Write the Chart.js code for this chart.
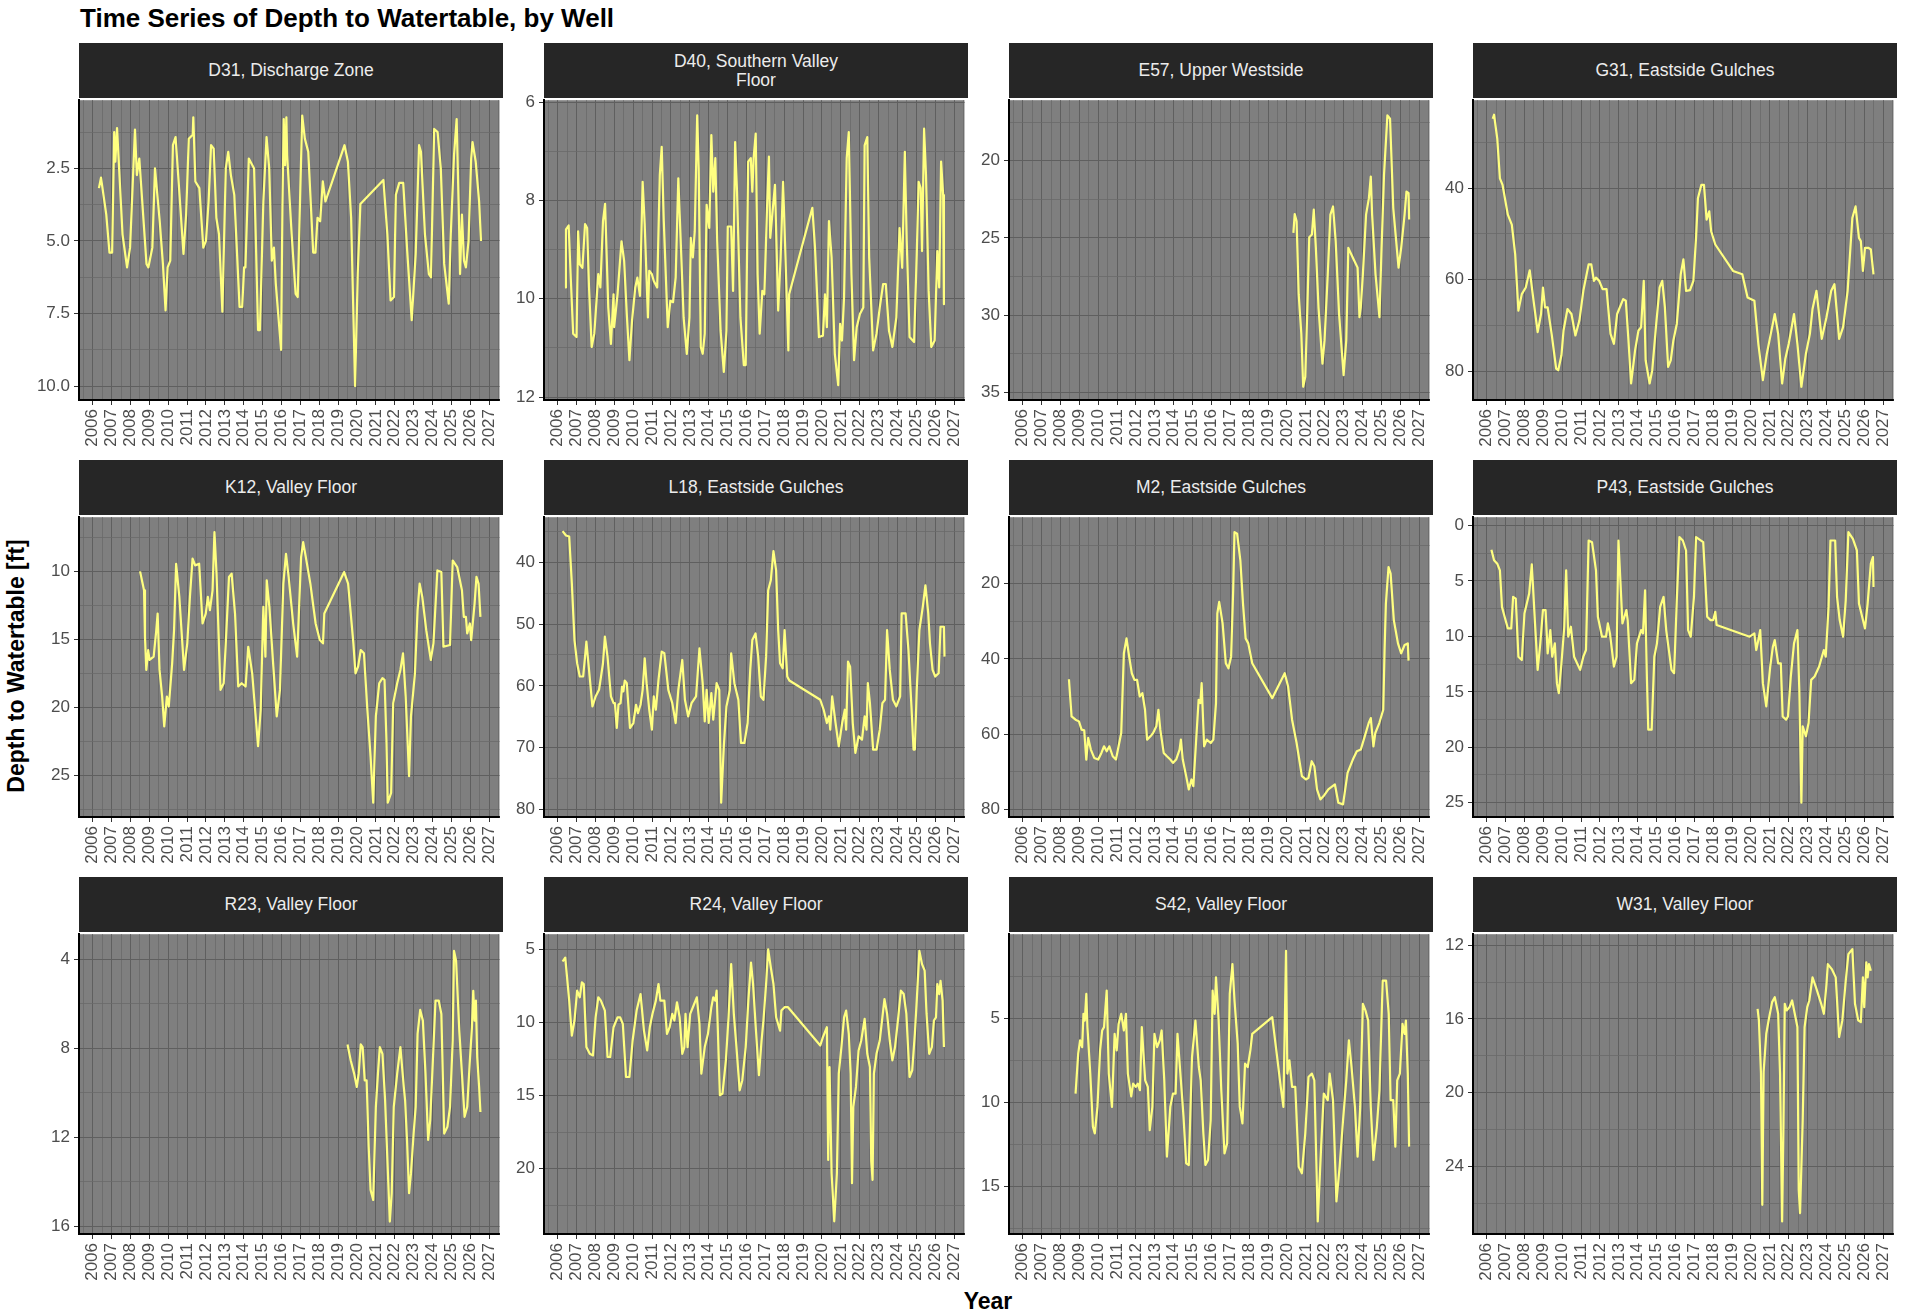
<!DOCTYPE html>
<html>
<head>
<meta charset="utf-8">
<title>Depth to Watertable</title>
<script src="https://cdn.jsdelivr.net/npm/chart.js@4.4.1/dist/chart.umd.min.js"></script>
<style>
  body { margin: 0; background: #fff; width: 1906px; height: 1315px; position: relative; overflow: hidden;
         font-family: 'Liberation Sans', Arial, sans-serif; }
  .strip { position: absolute; background: #262626; color: #ececec; font-size: 17.5px; display: flex;
           align-items: center; justify-content: center; text-align: center; line-height: 19px; }
  canvas { position: absolute; }
  #title { position: absolute; left: 80px; top: 5px; font-size: 26px; font-weight: bold; line-height: 26px; color: #000; }
  #ylab { position: absolute; left: 16px; top: 666px; font-size: 23px; font-weight: bold; color: #000;
          transform: translate(-50%, -50%) rotate(-90deg); white-space: nowrap; }
  #xlab { position: absolute; left: 988px; top: 1301px; font-size: 23px; font-weight: bold; color: #000;
          transform: translate(-50%, -50%); white-space: nowrap; }
</style>
</head>
<body>
<div id="title">Time Series of Depth to Watertable, by Well</div>
<div id="ylab">Depth to Watertable [ft]</div>
<div id="xlab">Year</div>
<script>
// year ticks shared by every panel
const yearTicks = [2006, 2007, 2008, 2009, 2010, 2011, 2012, 2013, 2014, 2015, 2016,
                   2017, 2018, 2019, 2020, 2021, 2022, 2023, 2024, 2025, 2026, 2027];

// [year, depth ft] per well
const wellD31 = [[2006.33,3.18],[2006.44,2.82],[2006.72,4.09],[2006.89,5.40],[2007.03,5.40],[2007.14,1.25],[2007.20,2.27],[2007.29,1.11],[2007.58,4.77],[2007.82,5.91],[2007.98,5.23],[2008.24,1.16],[2008.34,2.73],[2008.47,2.16],[2008.85,5.79],[2008.95,5.91],[2009.16,5.23],[2009.30,2.50],[2009.55,4.32],[2009.72,5.79],[2009.86,7.39],[2009.97,5.91],[2010.11,5.68],[2010.25,1.70],[2010.39,1.42],[2010.60,3.41],[2010.81,5.45],[2010.95,4.09],[2011.09,1.48],[2011.30,1.34],[2011.33,0.74],[2011.44,2.95],[2011.65,3.18],[2011.86,5.23],[2012.00,5.00],[2012.14,3.64],[2012.27,1.70],[2012.41,1.82],[2012.55,4.20],[2012.69,4.77],[2012.87,7.44],[2013.05,2.50],[2013.18,1.93],[2013.32,2.73],[2013.50,3.41],[2013.78,7.27],[2013.92,7.27],[2014.02,5.91],[2014.09,5.91],[2014.27,2.16],[2014.55,2.50],[2014.76,8.07],[2014.86,8.07],[2015.04,3.64],[2015.21,1.42],[2015.35,2.50],[2015.49,5.68],[2015.60,5.23],[2015.70,6.48],[2015.98,8.75],[2016.05,3.86],[2016.12,0.80],[2016.19,2.39],[2016.26,0.74],[2016.30,2.05],[2016.54,4.77],[2016.75,6.82],[2016.86,6.93],[2017.00,3.18],[2017.10,0.68],[2017.24,1.48],[2017.42,1.93],[2017.68,5.40],[2017.80,5.40],[2017.91,4.20],[2018.05,4.32],[2018.19,2.95],[2018.33,3.64],[2019.34,1.70],[2019.52,2.27],[2019.69,4.20],[2019.90,10.00],[2020.04,6.14],[2020.18,3.73],[2021.40,2.90],[2021.61,4.77],[2021.78,7.05],[2021.96,6.93],[2022.06,3.41],[2022.24,3.00],[2022.45,3.00],[2022.66,5.34],[2022.90,7.73],[2023.11,5.45],[2023.29,1.70],[2023.39,1.93],[2023.60,4.77],[2023.81,6.14],[2023.92,6.25],[2024.09,1.14],[2024.27,1.25],[2024.44,2.50],[2024.62,5.79],[2024.86,7.16],[2024.97,4.77],[2025.14,2.05],[2025.28,0.80],[2025.39,3.86],[2025.46,6.14],[2025.56,4.09],[2025.67,5.68],[2025.77,5.91],[2025.91,5.00],[2026.05,2.16],[2026.12,1.59],[2026.29,2.27],[2026.47,3.64],[2026.57,5.00]];

const wellD40 = [[2006.39,9.77],[2006.44,8.59],[2006.58,8.51],[2006.70,9.64],[2006.82,10.71],[2007.00,10.78],[2007.08,8.63],[2007.17,9.30],[2007.31,9.37],[2007.45,8.48],[2007.56,8.56],[2007.66,9.77],[2007.80,10.98],[2007.94,10.71],[2008.15,9.50],[2008.26,9.77],[2008.40,8.42],[2008.51,8.07],[2008.68,10.18],[2008.82,10.92],[2008.96,9.91],[2008.99,10.58],[2009.17,9.91],[2009.38,8.83],[2009.52,9.23],[2009.66,10.31],[2009.80,11.25],[2009.94,10.44],[2010.11,9.77],[2010.22,9.57],[2010.36,9.94],[2010.50,7.62],[2010.61,8.49],[2010.78,10.38],[2010.85,9.43],[2010.99,9.50],[2011.09,9.64],[2011.27,9.77],[2011.41,7.48],[2011.51,6.91],[2011.62,8.42],[2011.83,10.58],[2011.97,10.04],[2012.11,10.07],[2012.25,9.57],[2012.39,7.55],[2012.53,8.96],[2012.67,10.38],[2012.84,11.12],[2012.98,10.38],[2013.05,8.76],[2013.16,9.16],[2013.26,8.63],[2013.39,6.27],[2013.47,7.35],[2013.58,10.98],[2013.68,11.12],[2013.79,10.71],[2013.89,8.09],[2014.03,8.56],[2014.14,6.67],[2014.24,7.82],[2014.35,7.14],[2014.45,8.83],[2014.63,10.65],[2014.80,11.49],[2014.94,10.65],[2015.01,8.53],[2015.19,8.53],[2015.29,9.84],[2015.40,6.81],[2015.50,7.82],[2015.68,10.38],[2015.86,11.35],[2015.96,11.35],[2016.09,7.21],[2016.23,7.14],[2016.31,7.82],[2016.38,7.14],[2016.49,6.64],[2016.59,9.50],[2016.70,10.71],[2016.84,9.84],[2016.95,9.91],[2017.09,8.15],[2017.19,7.11],[2017.26,8.76],[2017.40,8.15],[2017.51,7.68],[2017.68,10.24],[2017.81,9.16],[2017.94,7.62],[2018.04,8.83],[2018.22,11.05],[2018.26,9.91],[2019.49,8.15],[2019.63,8.96],[2019.84,10.78],[2020.05,10.75],[2020.16,9.91],[2020.26,10.58],[2020.37,8.42],[2020.51,9.16],[2020.68,11.12],[2020.86,11.76],[2020.96,10.51],[2021.06,10.85],[2021.17,9.97],[2021.31,7.14],[2021.42,6.61],[2021.56,9.50],[2021.70,11.25],[2021.84,10.58],[2022.01,10.31],[2022.19,10.18],[2022.26,6.88],[2022.40,6.71],[2022.50,9.16],[2022.71,11.05],[2022.89,10.71],[2023.06,10.18],[2023.24,9.70],[2023.38,9.70],[2023.55,10.65],[2023.73,10.98],[2023.94,10.38],[2024.11,8.56],[2024.25,9.37],[2024.39,7.01],[2024.49,8.83],[2024.64,10.78],[2024.88,10.88],[2025.02,9.10],[2025.12,7.62],[2025.23,7.75],[2025.30,9.03],[2025.41,6.54],[2025.51,7.48],[2025.65,9.84],[2025.79,10.98],[2025.97,10.85],[2026.11,9.03],[2026.21,9.77],[2026.31,7.21],[2026.42,7.89],[2026.46,10.11]];

const wellE57 = [[2020.34,24.67],[2020.41,23.45],[2020.51,23.92],[2020.62,28.64],[2020.76,31.21],[2020.86,34.63],[2020.97,33.99],[2021.07,29.92],[2021.18,24.95],[2021.32,24.78],[2021.42,23.17],[2021.53,25.64],[2021.67,29.49],[2021.88,33.13],[2021.99,31.63],[2022.16,27.35],[2022.30,23.49],[2022.44,22.96],[2022.58,25.21],[2022.76,29.92],[2023.00,33.88],[2023.14,31.63],[2023.25,25.64],[2023.49,26.28],[2023.74,26.92],[2023.84,30.13],[2023.91,29.49],[2024.02,27.35],[2024.19,23.49],[2024.34,22.42],[2024.44,21.03],[2024.51,23.49],[2024.69,27.35],[2024.90,30.13],[2025.00,26.06],[2025.14,20.92],[2025.32,17.06],[2025.46,17.28],[2025.63,23.06],[2025.77,24.99],[2025.91,26.92],[2026.05,25.64],[2026.23,23.49],[2026.33,21.99],[2026.44,22.10],[2026.47,23.81]];

const wellG31 = [[2006.32,24.81],[2006.39,23.94],[2006.56,29.15],[2006.70,37.83],[2006.84,39.28],[2007.12,45.79],[2007.33,47.96],[2007.51,54.47],[2007.68,66.76],[2007.86,63.15],[2008.07,61.70],[2008.28,57.94],[2008.46,63.87],[2008.70,71.46],[2008.88,67.49],[2008.98,61.70],[2009.09,66.04],[2009.23,66.04],[2009.44,71.83],[2009.68,79.42],[2009.79,79.78],[2009.96,76.53],[2010.07,71.10],[2010.28,66.40],[2010.49,67.49],[2010.70,72.19],[2010.91,68.93],[2011.12,62.42],[2011.40,56.64],[2011.54,56.64],[2011.68,60.25],[2011.79,59.53],[2011.96,60.25],[2012.14,62.06],[2012.35,62.06],[2012.56,71.83],[2012.74,74.00],[2012.91,67.49],[2013.23,64.23],[2013.37,64.59],[2013.51,73.27],[2013.65,82.68],[2013.86,75.44],[2014.04,71.10],[2014.18,70.38],[2014.32,60.25],[2014.42,77.61],[2014.63,82.68],[2014.77,79.78],[2014.98,69.66],[2015.16,61.70],[2015.30,60.25],[2015.44,66.04],[2015.61,79.06],[2015.75,77.61],[2015.89,73.27],[2016.07,69.66],[2016.28,58.81],[2016.42,55.55],[2016.56,62.42],[2016.77,62.28],[2016.95,60.25],[2017.09,50.85],[2017.19,42.17],[2017.37,39.28],[2017.51,39.28],[2017.65,46.87],[2017.79,45.06],[2017.89,49.40],[2018.11,52.30],[2019.05,58.08],[2019.54,58.81],[2019.82,63.87],[2020.18,64.59],[2020.39,74.00],[2020.63,81.95],[2020.84,76.17],[2021.05,71.83],[2021.26,67.49],[2021.44,71.83],[2021.65,82.68],[2021.82,77.25],[2022.00,74.00],[2022.28,67.49],[2022.46,74.00],[2022.67,83.40],[2022.91,76.17],[2023.12,71.83],[2023.26,66.40],[2023.47,62.42],[2023.75,72.91],[2024.00,68.21],[2024.25,62.42],[2024.42,60.98],[2024.67,72.91],[2024.88,70.38],[2025.12,62.42],[2025.37,46.51],[2025.54,43.98],[2025.72,50.85],[2025.82,51.57],[2025.93,58.08],[2026.04,53.02],[2026.21,53.02],[2026.35,53.38],[2026.49,58.81]];

const wellK12 = [[2008.51,10.00],[2008.72,11.39],[2008.77,14.80],[2008.84,17.24],[2008.94,15.78],[2009.01,16.51],[2009.23,16.27],[2009.37,14.32],[2009.44,13.10],[2009.54,17.24],[2009.68,19.20],[2009.79,21.39],[2009.93,19.20],[2010.03,19.93],[2010.21,16.76],[2010.31,14.32],[2010.42,9.44],[2010.59,11.88],[2010.84,17.24],[2011.01,15.29],[2011.15,11.88],[2011.29,9.07],[2011.43,9.56],[2011.64,9.44],[2011.82,13.83],[2011.99,13.10],[2012.10,11.88],[2012.21,12.85],[2012.35,11.39],[2012.45,7.12],[2012.56,10.17],[2012.77,18.71],[2012.94,18.22],[2013.05,15.29],[2013.22,10.41],[2013.36,10.17],[2013.54,13.10],[2013.71,18.46],[2013.89,18.22],[2014.10,18.46],[2014.24,15.54],[2014.45,17.49],[2014.59,19.93],[2014.76,22.85],[2014.90,20.17],[2015.04,12.61],[2015.15,16.27],[2015.22,10.66],[2015.36,12.61],[2015.57,17.00],[2015.75,20.66],[2015.92,18.71],[2016.10,10.90],[2016.24,8.71],[2016.38,10.41],[2016.62,13.83],[2016.83,16.27],[2016.97,11.39],[2017.04,8.95],[2017.15,7.85],[2017.29,8.95],[2017.53,10.90],[2017.81,13.83],[2018.03,15.05],[2018.20,15.29],[2018.27,13.10],[2019.32,10.05],[2019.53,10.90],[2019.81,15.29],[2019.92,17.49],[2020.06,17.00],[2020.20,15.78],[2020.37,16.02],[2020.55,20.17],[2020.72,23.59],[2020.86,27.00],[2021.00,20.66],[2021.18,18.22],[2021.35,17.85],[2021.46,17.98],[2021.56,22.37],[2021.63,27.00],[2021.81,26.27],[2021.92,19.68],[2022.13,18.22],[2022.30,17.24],[2022.44,16.02],[2022.58,19.20],[2022.76,25.05],[2022.86,20.66],[2023.07,17.49],[2023.21,12.85],[2023.32,10.90],[2023.46,11.88],[2023.67,14.32],[2023.91,16.51],[2024.05,15.29],[2024.26,9.93],[2024.47,10.05],[2024.58,15.54],[2024.93,15.41],[2025.07,9.20],[2025.31,9.68],[2025.56,11.39],[2025.66,13.34],[2025.77,13.34],[2025.84,14.56],[2025.98,13.83],[2026.05,15.05],[2026.23,12.37],[2026.33,10.41],[2026.44,10.90],[2026.54,13.34]];

const wellL18 = [[2006.26,34.95],[2006.44,35.65],[2006.61,35.81],[2006.75,43.44],[2006.89,52.58],[2007.03,56.34],[2007.17,58.49],[2007.35,58.49],[2007.45,55.27],[2007.52,52.85],[2007.66,57.42],[2007.84,63.33],[2008.01,61.72],[2008.19,60.65],[2008.40,56.34],[2008.50,52.04],[2008.64,55.27],[2008.82,61.72],[2008.96,62.80],[2009.03,62.80],[2009.13,66.83],[2009.22,63.06],[2009.33,62.80],[2009.41,60.11],[2009.48,60.91],[2009.55,59.14],[2009.66,59.57],[2009.83,66.83],[2010.01,66.02],[2010.15,63.06],[2010.25,64.41],[2010.39,63.06],[2010.50,60.65],[2010.61,55.54],[2010.71,59.57],[2010.85,63.87],[2010.99,67.10],[2011.09,61.72],[2011.20,63.87],[2011.34,59.03],[2011.51,54.46],[2011.65,54.73],[2011.86,60.65],[2012.07,62.80],[2012.25,66.02],[2012.39,60.65],[2012.60,55.81],[2012.74,62.26],[2012.91,64.95],[2013.09,62.80],[2013.33,61.72],[2013.51,53.92],[2013.68,59.57],[2013.79,65.75],[2013.89,60.65],[2014.00,66.02],[2014.14,61.18],[2014.24,65.48],[2014.42,59.57],[2014.56,60.65],[2014.66,78.92],[2014.80,69.78],[2014.94,63.33],[2015.12,60.65],[2015.19,54.73],[2015.36,59.57],[2015.57,62.26],[2015.71,69.25],[2015.89,69.25],[2016.06,66.02],[2016.20,57.42],[2016.31,52.58],[2016.48,51.51],[2016.62,55.27],[2016.76,61.72],[2016.90,62.26],[2017.04,55.27],[2017.15,44.52],[2017.29,42.90],[2017.43,38.17],[2017.57,41.29],[2017.68,50.97],[2017.78,56.34],[2017.92,57.15],[2018.02,50.97],[2018.16,58.49],[2018.27,59.14],[2019.91,62.26],[2020.09,63.87],[2020.26,66.02],[2020.37,64.95],[2020.44,67.10],[2020.54,61.72],[2020.72,66.02],[2020.89,69.78],[2021.07,66.02],[2021.21,63.87],[2021.28,67.10],[2021.38,56.08],[2021.49,56.88],[2021.63,66.02],[2021.77,70.86],[2021.94,68.17],[2022.12,68.71],[2022.26,64.95],[2022.36,67.10],[2022.43,59.57],[2022.54,62.80],[2022.71,70.32],[2022.89,70.32],[2023.06,67.10],[2023.20,62.80],[2023.34,62.26],[2023.45,50.97],[2023.59,57.42],[2023.76,62.26],[2023.94,63.33],[2024.14,61.72],[2024.22,48.28],[2024.43,48.28],[2024.58,54.19],[2024.74,63.33],[2024.85,70.32],[2024.92,70.32],[2025.02,60.65],[2025.16,50.97],[2025.34,47.20],[2025.48,43.71],[2025.63,48.28],[2025.72,53.12],[2025.86,57.42],[2026.00,58.49],[2026.18,57.96],[2026.28,50.43],[2026.46,50.43],[2026.49,55.27]];

const wellM2 = [[2008.45,45.42],[2008.59,55.30],[2008.80,56.18],[2008.98,56.63],[2009.12,58.83],[2009.26,59.01],[2009.37,66.78],[2009.47,61.04],[2009.61,64.13],[2009.79,66.34],[2010.00,66.78],[2010.17,65.01],[2010.31,63.25],[2010.45,64.57],[2010.59,63.25],[2010.77,65.90],[2010.94,66.78],[2011.08,63.25],[2011.22,59.72],[2011.36,38.53],[2011.50,34.56],[2011.64,39.42],[2011.78,43.83],[2011.92,45.60],[2012.06,45.60],[2012.20,50.01],[2012.34,49.13],[2012.48,53.54],[2012.59,61.48],[2012.77,60.60],[2012.91,59.72],[2013.08,57.95],[2013.19,53.54],[2013.29,58.83],[2013.47,65.01],[2013.64,65.90],[2013.82,66.78],[2013.96,67.66],[2014.13,66.78],[2014.31,64.13],[2014.38,61.48],[2014.48,66.78],[2014.66,71.19],[2014.80,74.72],[2014.94,72.07],[2015.04,73.84],[2015.18,62.37],[2015.32,50.89],[2015.41,51.77],[2015.48,46.48],[2015.61,63.25],[2015.75,61.48],[2015.96,62.37],[2016.10,61.48],[2016.24,51.77],[2016.31,27.94],[2016.41,24.85],[2016.59,30.59],[2016.76,41.18],[2016.90,42.51],[2017.04,39.42],[2017.15,21.77],[2017.22,6.32],[2017.36,6.76],[2017.53,13.82],[2017.67,25.30],[2017.81,34.56],[2017.95,35.89],[2018.16,41.18],[2019.22,50.45],[2019.88,43.83],[2020.06,47.36],[2020.27,56.18],[2020.51,62.37],[2020.79,71.19],[2021.00,72.07],[2021.14,71.63],[2021.31,67.22],[2021.45,68.54],[2021.59,74.72],[2021.77,77.37],[2021.94,76.49],[2022.19,74.72],[2022.54,73.40],[2022.72,78.25],[2022.97,78.69],[2023.21,70.31],[2023.49,66.78],[2023.70,64.57],[2023.91,64.13],[2024.12,60.60],[2024.33,57.07],[2024.44,55.75],[2024.58,63.25],[2024.68,59.72],[2024.89,57.07],[2025.10,53.54],[2025.17,37.65],[2025.24,25.30],[2025.38,15.59],[2025.49,17.35],[2025.66,29.71],[2025.88,35.89],[2026.05,38.53],[2026.23,36.33],[2026.40,35.89],[2026.44,40.48]];

const wellP43 = [[2006.25,2.19],[2006.39,3.14],[2006.56,3.44],[2006.70,4.04],[2006.81,7.34],[2006.95,8.23],[2007.12,9.28],[2007.30,9.28],[2007.40,6.44],[2007.54,6.59],[2007.68,11.83],[2007.86,12.13],[2008.00,7.93],[2008.25,6.14],[2008.39,3.50],[2008.56,8.83],[2008.70,13.02],[2008.84,10.63],[2008.98,7.63],[2009.12,7.63],[2009.23,11.53],[2009.37,9.43],[2009.47,11.83],[2009.61,10.63],[2009.72,14.22],[2009.82,15.12],[2009.96,12.43],[2010.11,9.13],[2010.21,4.04],[2010.32,10.03],[2010.46,9.13],[2010.63,11.83],[2010.95,13.02],[2011.12,11.83],[2011.26,11.23],[2011.40,1.35],[2011.58,1.50],[2011.79,4.04],[2011.89,8.23],[2012.11,10.03],[2012.32,10.03],[2012.42,8.83],[2012.53,9.73],[2012.74,12.72],[2012.88,11.83],[2012.98,1.35],[2013.09,5.24],[2013.19,8.83],[2013.40,7.63],[2013.47,8.53],[2013.65,14.22],[2013.82,13.92],[2013.96,10.63],[2014.18,9.43],[2014.28,9.73],[2014.39,5.84],[2014.49,13.92],[2014.56,18.41],[2014.74,18.41],[2014.88,11.83],[2015.02,10.63],[2015.19,7.34],[2015.37,6.44],[2015.51,9.43],[2015.79,13.02],[2015.93,13.32],[2016.07,6.74],[2016.21,1.05],[2016.39,1.35],[2016.56,2.25],[2016.67,9.43],[2016.81,10.03],[2016.98,6.44],[2017.09,1.05],[2017.47,1.50],[2017.68,8.23],[2017.86,8.53],[2018.00,8.53],[2018.11,7.78],[2018.18,8.98],[2019.93,10.03],[2020.18,9.73],[2020.28,11.23],[2020.39,10.33],[2020.49,9.43],[2020.63,14.22],[2020.81,16.32],[2021.02,12.72],[2021.16,10.93],[2021.26,10.33],[2021.44,12.43],[2021.58,12.43],[2021.68,17.22],[2021.86,17.51],[2021.96,17.22],[2022.11,13.62],[2022.28,10.63],[2022.46,9.43],[2022.56,14.82],[2022.67,25.00],[2022.74,18.11],[2022.91,19.01],[2023.05,17.81],[2023.19,13.92],[2023.37,13.62],[2023.61,12.72],[2023.86,11.23],[2023.96,11.83],[2024.11,7.34],[2024.21,1.35],[2024.46,1.35],[2024.56,6.44],[2024.70,8.53],[2024.88,10.03],[2025.02,6.74],[2025.16,0.60],[2025.40,1.20],[2025.61,2.25],[2025.72,7.04],[2025.89,8.23],[2026.04,9.28],[2026.18,7.04],[2026.35,3.44],[2026.46,2.84],[2026.49,5.54]];

const wellR23 = [[2019.50,7.83],[2019.67,8.55],[2019.85,9.14],[2019.99,9.74],[2020.09,9.14],[2020.20,7.83],[2020.30,7.95],[2020.41,9.44],[2020.51,9.44],[2020.62,12.42],[2020.72,14.36],[2020.86,14.81],[2021.00,10.63],[2021.11,9.14],[2021.21,7.95],[2021.35,8.25],[2021.49,10.34],[2021.64,13.62],[2021.74,15.78],[2021.84,14.51],[2021.95,10.63],[2022.13,9.14],[2022.30,7.95],[2022.48,9.74],[2022.55,10.34],[2022.65,12.12],[2022.76,14.51],[2022.86,13.62],[2023.00,11.83],[2023.11,10.63],[2023.21,7.35],[2023.35,6.28],[2023.49,6.76],[2023.63,9.14],[2023.77,12.12],[2023.88,11.23],[2024.02,8.55],[2024.16,5.86],[2024.33,5.86],[2024.47,6.46],[2024.62,11.83],[2024.79,11.53],[2024.93,10.63],[2025.07,7.65],[2025.14,3.63],[2025.25,4.07],[2025.42,7.21],[2025.56,9.14],[2025.70,11.08],[2025.84,10.63],[2025.98,8.55],[2026.09,7.06],[2026.16,5.42],[2026.23,6.76],[2026.30,5.86],[2026.37,8.40],[2026.47,9.74],[2026.54,10.86]];

const wellR24 = [[2006.26,5.82],[2006.40,5.55],[2006.61,8.50],[2006.75,10.89],[2006.89,9.86],[2007.03,7.82],[2007.17,8.27],[2007.28,7.25],[2007.38,7.36],[2007.52,11.68],[2007.70,12.14],[2007.87,12.25],[2008.01,9.64],[2008.15,8.27],[2008.29,8.50],[2008.50,9.18],[2008.64,12.36],[2008.78,12.36],[2008.96,10.32],[2009.17,9.64],[2009.31,9.64],[2009.45,10.09],[2009.62,13.73],[2009.80,13.73],[2009.97,11.23],[2010.18,9.18],[2010.39,8.05],[2010.57,10.55],[2010.74,11.91],[2010.88,10.32],[2011.02,9.41],[2011.20,8.50],[2011.34,7.36],[2011.44,8.50],[2011.65,8.50],[2011.79,10.77],[2011.93,10.32],[2012.07,9.41],[2012.18,9.86],[2012.32,8.61],[2012.46,9.64],[2012.60,12.14],[2012.71,11.68],[2012.77,9.41],[2012.88,11.68],[2013.02,9.41],[2013.23,8.73],[2013.37,8.27],[2013.51,10.09],[2013.61,13.50],[2013.79,11.68],[2013.96,10.77],[2014.14,8.95],[2014.24,8.27],[2014.35,8.50],[2014.42,7.82],[2014.59,14.98],[2014.73,14.86],[2014.91,12.59],[2015.05,9.64],[2015.19,6.00],[2015.33,9.41],[2015.47,11.68],[2015.64,14.64],[2015.78,13.95],[2015.96,11.68],[2016.10,8.50],[2016.24,5.89],[2016.35,7.36],[2016.48,10.09],[2016.66,13.61],[2016.80,11.23],[2016.90,9.86],[2017.04,7.36],[2017.15,4.98],[2017.29,6.23],[2017.43,7.36],[2017.57,9.64],[2017.78,10.55],[2017.85,9.18],[2018.02,8.95],[2018.20,8.95],[2019.91,11.57],[2020.05,11.00],[2020.26,10.32],[2020.33,19.41],[2020.40,13.05],[2020.51,20.32],[2020.65,23.61],[2020.79,20.32],[2020.89,13.50],[2021.03,11.68],[2021.17,9.64],[2021.28,9.18],[2021.42,10.77],[2021.52,13.50],[2021.59,21.00],[2021.66,15.77],[2021.80,14.41],[2021.94,11.91],[2022.08,11.23],[2022.26,9.75],[2022.40,12.14],[2022.54,13.05],[2022.61,19.50],[2022.68,20.77],[2022.75,13.50],[2022.89,12.14],[2023.06,11.23],[2023.20,9.64],[2023.31,8.39],[2023.45,9.41],[2023.59,11.23],[2023.73,12.59],[2023.87,11.68],[2024.04,9.64],[2024.18,7.82],[2024.33,8.05],[2024.47,9.41],[2024.64,13.73],[2024.78,13.27],[2024.92,10.77],[2025.02,8.50],[2025.16,5.09],[2025.30,6.00],[2025.44,6.45],[2025.54,9.41],[2025.68,12.14],[2025.82,11.68],[2025.93,9.86],[2026.04,9.64],[2026.11,7.36],[2026.21,8.05],[2026.28,7.14],[2026.39,8.50],[2026.46,11.68]];

const wellS42 = [[2008.80,9.48],[2008.94,7.11],[2009.04,6.32],[2009.15,6.72],[2009.22,4.74],[2009.29,5.14],[2009.37,3.56],[2009.43,5.53],[2009.58,8.29],[2009.72,11.45],[2009.82,11.84],[2009.96,10.27],[2010.10,6.91],[2010.21,5.73],[2010.31,5.53],[2010.45,3.36],[2010.56,8.29],[2010.73,10.27],[2010.87,5.93],[2010.98,6.91],[2011.08,5.34],[2011.22,4.74],[2011.36,5.73],[2011.47,4.74],[2011.57,8.29],[2011.75,9.64],[2011.85,8.89],[2011.99,9.08],[2012.10,8.89],[2012.21,9.28],[2012.31,5.53],[2012.49,8.69],[2012.63,9.08],[2012.73,11.65],[2012.87,10.27],[2012.98,5.93],[2013.12,6.72],[2013.26,6.32],[2013.36,5.73],[2013.50,8.69],[2013.64,13.22],[2013.82,10.27],[2013.96,9.48],[2014.10,9.48],[2014.20,5.93],[2014.38,8.69],[2014.52,10.86],[2014.66,13.62],[2014.80,13.72],[2014.97,7.31],[2015.15,5.14],[2015.33,7.90],[2015.43,8.69],[2015.57,11.84],[2015.68,13.72],[2015.82,13.42],[2015.96,11.06],[2016.06,3.36],[2016.17,4.74],[2016.24,2.57],[2016.38,5.14],[2016.52,9.28],[2016.69,13.03],[2016.83,12.44],[2016.97,3.56],[2017.11,1.78],[2017.22,3.95],[2017.39,6.52],[2017.50,10.27],[2017.64,11.25],[2017.78,7.70],[2017.92,7.90],[2018.06,6.91],[2018.16,5.93],[2019.22,4.94],[2019.50,7.50],[2019.67,9.08],[2019.81,10.27],[2019.95,1.00],[2020.02,8.29],[2020.13,7.50],[2020.27,9.08],[2020.44,9.08],[2020.62,13.82],[2020.79,14.21],[2020.97,11.84],[2021.14,8.49],[2021.32,8.29],[2021.45,8.69],[2021.63,17.07],[2021.81,12.63],[2021.95,9.48],[2022.16,9.87],[2022.26,8.29],[2022.44,9.87],[2022.62,15.89],[2022.79,13.82],[2022.97,11.06],[2023.14,8.69],[2023.28,6.32],[2023.42,7.90],[2023.60,10.27],[2023.74,13.22],[2023.88,10.27],[2024.02,4.15],[2024.16,4.55],[2024.30,5.14],[2024.44,10.27],[2024.58,13.42],[2024.76,11.45],[2024.90,9.28],[2025.07,2.77],[2025.25,2.77],[2025.39,4.74],[2025.49,9.87],[2025.63,9.87],[2025.74,12.63],[2025.84,8.69],[2025.98,8.29],[2026.12,5.34],[2026.23,5.93],[2026.30,5.14],[2026.40,8.29],[2026.47,12.63]];

const wellW31 = [[2020.35,15.45],[2020.42,16.08],[2020.53,18.96],[2020.60,26.07],[2020.67,18.87],[2020.81,16.80],[2020.95,15.99],[2021.12,15.09],[2021.26,14.82],[2021.44,15.72],[2021.54,18.96],[2021.65,26.97],[2021.72,21.84],[2021.79,15.18],[2021.89,15.54],[2022.04,15.36],[2022.18,15.00],[2022.32,15.72],[2022.46,16.44],[2022.53,25.26],[2022.60,26.52],[2022.74,21.48],[2022.84,16.44],[2022.98,15.36],[2023.09,15.00],[2023.26,13.75],[2023.44,14.28],[2023.72,15.18],[2023.86,15.72],[2024.00,14.11],[2024.07,13.03],[2024.28,13.30],[2024.49,13.75],[2024.67,16.98],[2024.84,16.08],[2025.02,13.93],[2025.16,12.49],[2025.37,12.22],[2025.51,15.18],[2025.68,16.08],[2025.82,16.17],[2025.93,13.75],[2026.00,15.36],[2026.11,12.94],[2026.18,13.75],[2026.25,13.03],[2026.35,13.39]];

// y tick values per well
const ticksD31 = [2.5, 5, 7.5, 10];
const ticksD40 = [6, 8, 10, 12];
const ticksE57 = [20, 25, 30, 35];
const ticksG31 = [40, 60, 80];
const ticksK12 = [10, 15, 20, 25];
const ticksL18 = [40, 50, 60, 70, 80];
const ticksM2 = [20, 40, 60, 80];
const ticksP43 = [0, 5, 10, 15, 20, 25];
const ticksR23 = [4, 8, 12, 16];
const ticksR24 = [5, 10, 15, 20];
const ticksS42 = [5, 10, 15];
const ticksW31 = [12, 16, 20, 24];

const panels = [
  { title: "D31, Discharge Zone", data: wellD31, ticks: ticksD31, min: 0.15, max: 10.48, dec: 1 },
  { title: "D40, Southern Valley<br>Floor", data: wellD40, ticks: ticksD40, min: 5.96, max: 12.06, dec: 0 },
  { title: "E57, Upper Westside", data: wellE57, ticks: ticksE57, min: 16.08, max: 35.49, dec: 0 },
  { title: "G31, Eastside Gulches", data: wellG31, ticks: ticksG31, min: 20.76, max: 86.29, dec: 0 },
  { title: "K12, Valley Floor", data: wellK12, ticks: ticksK12, min: 6.02, max: 28.05, dec: 0 },
  { title: "L18, Eastside Gulches", data: wellL18, ticks: ticksL18, min: 32.69, max: 81.24, dec: 0 },
  { title: "M2, Eastside Gulches", data: wellM2, ticks: ticksM2, min: 2.35, max: 82.05, dec: 0 },
  { title: "P43, Eastside Gulches", data: wellP43, ticks: ticksP43, min: -0.75, max: 26.29, dec: 0 },
  { title: "R23, Valley Floor", data: wellR23, ticks: ticksR23, min: 2.88, max: 16.34, dec: 0 },
  { title: "R24, Valley Floor", data: wellR24, ticks: ticksR24, min: 3.95, max: 24.48, dec: 0 },
  { title: "S42, Valley Floor", data: wellS42, ticks: ticksS42, min: 0.01, max: 17.82, dec: 0 },
  { title: "W31, Valley Floor", data: wellW31, ticks: ticksW31, min: 11.41, max: 27.65, dec: 0 },
];

// layout (px)
const colLeft = [79, 544, 1009, 1473];
const rowTop = [98, 515, 932];
const plotW = 424, plotH = 302, stripH = 55;
const padL = 60, padR = 20, padT = 12, axisH = 62;
const xMin = 2005.275, xMax = 2027.55;

const gridMajor = "#5f5f5f", gridMinor = "#6a6a6a";

Chart.defaults.font.family = "'Liberation Sans', Arial, sans-serif";
Chart.defaults.font.size = 17;
Chart.defaults.color = "#4d4d4d";

const panelBg = {
  id: "panelBg",
  beforeDraw(chart) {
    const { ctx, chartArea: a } = chart;
    ctx.save();
    ctx.fillStyle = "#7f7f7f";
    ctx.fillRect(a.left, a.top, a.right - a.left, a.bottom - a.top);
    ctx.restore();
  },
};

// year grid: majors at whole years, minors at half years
let xAll = [];
yearTicks.forEach(y => { xAll.push(y - 0.5); xAll.push(y); });
xAll.push(yearTicks[yearTicks.length - 1] + 0.5);
xAll = xAll.filter(v => v >= xMin && v <= xMax);

function isMajor(list, ctx) {
  return ctx.tick && list.includes(ctx.tick.value);
}

panels.forEach((p, i) => {
  const col = i % 4, row = Math.floor(i / 4);
  const left = colLeft[col], top = rowTop[row];

  const strip = document.createElement("div");
  strip.className = "strip";
  strip.style.left = left + "px";
  strip.style.top = (top - stripH) + "px";
  strip.style.width = plotW + "px";
  strip.style.height = stripH + "px";
  strip.innerHTML = p.title;
  document.body.appendChild(strip);

  const cv = document.createElement("canvas");
  cv.width = padL + plotW + padR;
  cv.height = padT + plotH + axisH;
  cv.style.left = (left - padL) + "px";
  cv.style.top = (top - padT) + "px";
  document.body.appendChild(cv);

  const step = p.ticks[1] - p.ticks[0];
  let yAll = [];
  [p.ticks[0] - step].concat(p.ticks).forEach(t => { yAll.push(t + step / 2); });
  yAll = yAll.concat(p.ticks).filter(v => v >= p.min && v <= p.max).sort((a, b) => a - b);

  new Chart(cv.getContext("2d"), {
    type: "line",
    data: {
      datasets: [{
        data: p.data.map(d => ({ x: d[0], y: d[1] })),
        borderColor: "#ffff80",
        borderWidth: 2.2,
        borderJoinStyle: "round",
        pointRadius: 0,
        tension: 0,
        fill: false,
      }],
    },
    options: {
      responsive: false,
      animation: false,
      events: [],
      layout: { padding: { left: 0, right: padR, top: padT, bottom: 0 } },
      plugins: { legend: { display: false }, tooltip: { enabled: false } },
      scales: {
        x: {
          type: "linear",
          min: xMin,
          max: xMax,
          afterBuildTicks: ax => { ax.ticks = xAll.map(v => ({ value: v })); },
          afterFit: ax => { ax.height = axisH; },
          ticks: {
            autoSkip: false,
            minRotation: 90,
            maxRotation: 90,
            padding: 4,
            callback: v => (Number.isInteger(v) ? String(v) : ""),
          },
          grid: {
            color: c => (isMajor(yearTicks, c) ? gridMajor : gridMinor),
            lineWidth: c => (isMajor(yearTicks, c) ? 1 : 0.8),
            tickColor: c => (isMajor(yearTicks, c) ? "#333333" : "rgba(0,0,0,0)"),
            tickLength: 5,
          },
          border: { display: true, color: "#000000", width: 2 },
        },
        y: {
          type: "linear",
          reverse: true,
          min: p.min,
          max: p.max,
          afterBuildTicks: ax => { ax.ticks = yAll.map(v => ({ value: v })); },
          afterFit: ax => { ax.width = padL; },
          ticks: {
            autoSkip: false,
            padding: 4,
            callback: v => (p.ticks.includes(v) ? v.toFixed(p.dec) : ""),
          },
          grid: {
            color: c => (isMajor(p.ticks, c) ? gridMajor : gridMinor),
            lineWidth: c => (isMajor(p.ticks, c) ? 1 : 0.8),
            tickColor: c => (isMajor(p.ticks, c) ? "#333333" : "rgba(0,0,0,0)"),
            tickLength: 5,
          },
          border: { display: true, color: "#000000", width: 2 },
        },
      },
    },
    plugins: [panelBg],
  });
});
</script>
</body>
</html>
